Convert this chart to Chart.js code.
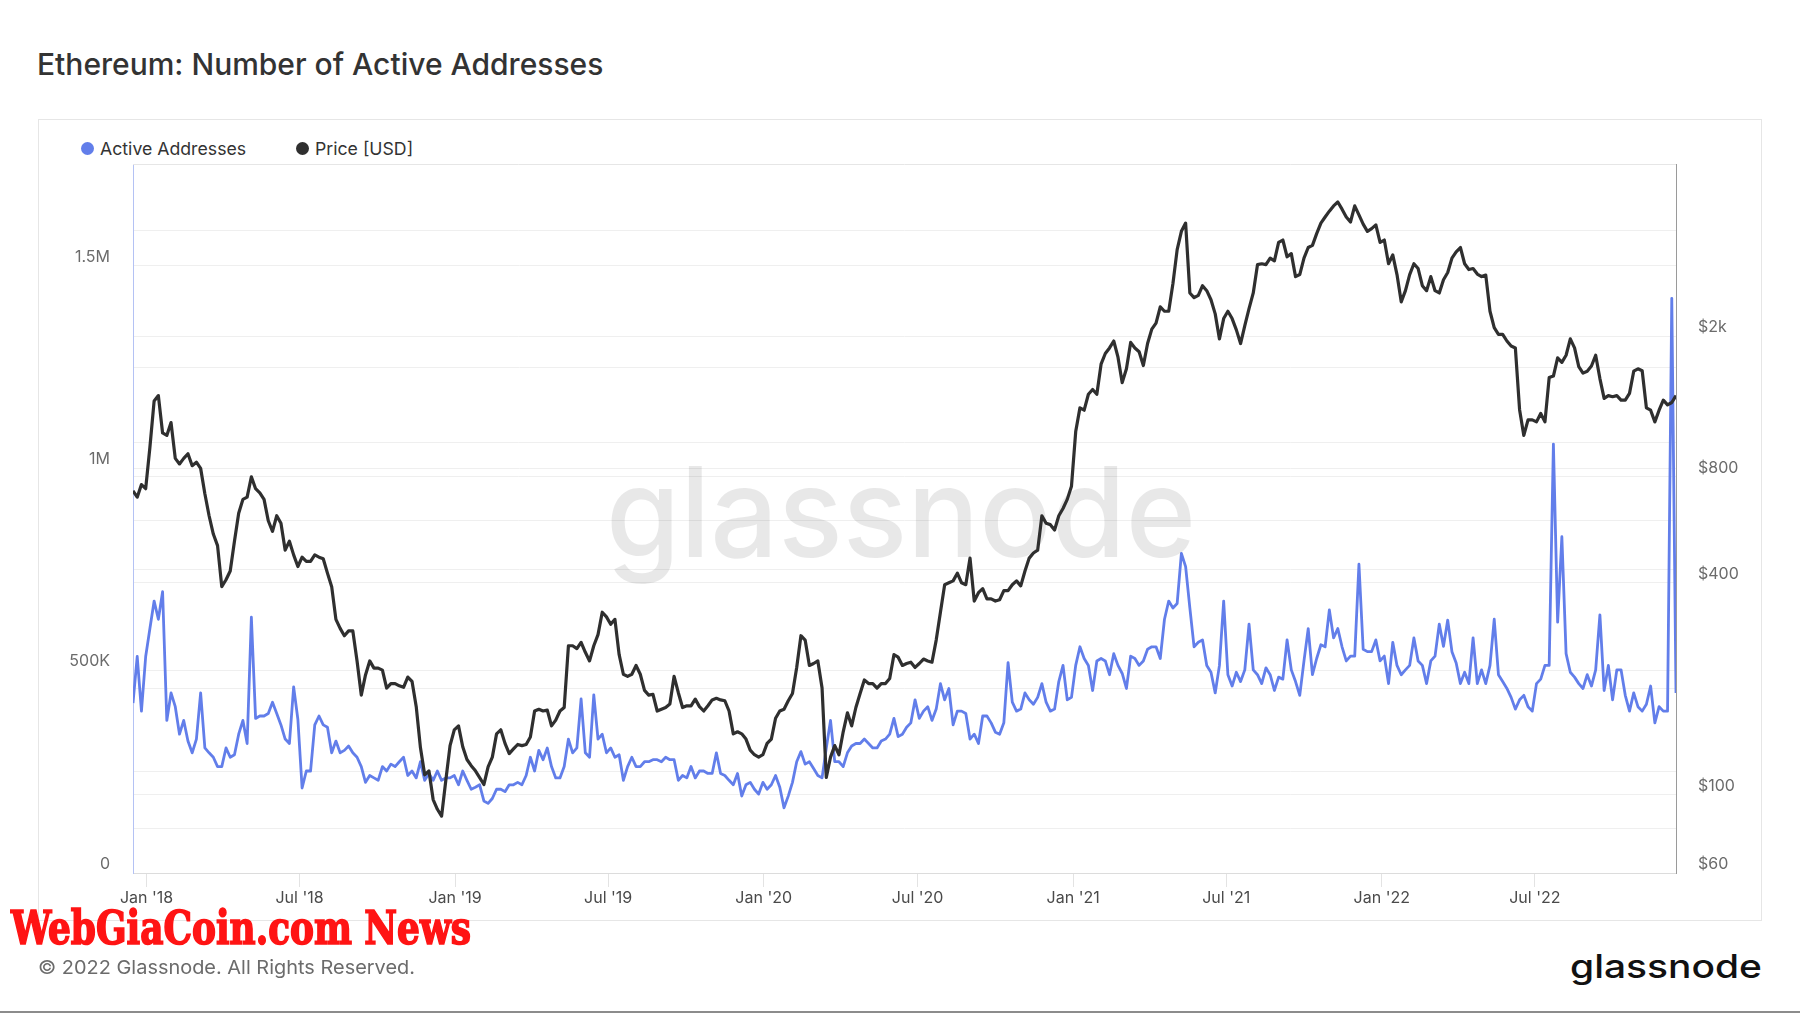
<!DOCTYPE html>
<html>
<head>
<meta charset="utf-8">
<script src="https://cdn.jsdelivr.net/npm/chart.js@4.4.0/dist/chart.umd.min.js"></script>
<style>
  html, body { margin: 0; padding: 0; background: #fff; }
  body { width: 1800px; height: 1013px; position: relative; overflow: hidden; font-family: Inter, sans-serif; }
  .abs { position: absolute; line-height: 1; white-space: nowrap; transform-origin: left top; }
  #title { left: 37px; top: 49px; font-size: 30px; font-weight: 500; color: #333; }
  #card { position: absolute; left: 38px; top: 119px; width: 1724px; height: 802px; border: 1px solid #e6e6e6; box-sizing: border-box; }
  #chart { position: absolute; left: 38px; top: 119px; }
  .dot { position: absolute; width: 13px; height: 13px; border-radius: 50%; }
  .leg { font-size: 17.7px; color: #333; top: 140px; }
  #copy { left: 38px; top: 958px; font-size: 19px; color: #6b6b6b; }
  #logo { left: 1570px; top: 950px; font-size: 33px; font-weight: 500; color: #111; }
  #promo { left: 11px; top: 905px; font-size: 46px; font-weight: bold; color: #ff1414;
           font-family: "DejaVu Serif Condensed", "DejaVu Serif", serif;
           -webkit-text-stroke: 1.6px #ff1414; }
  #rule { position: absolute; left: 0; top: 1011px; width: 1800px; height: 2px; background: #8c8c8c; }
</style>
</head>
<body>
<div id="title" class="abs">Ethereum: Number of Active Addresses</div>
<div id="card"></div>
<div class="dot" style="left:81px; top:142px; background:#627EEA;"></div>
<div class="abs leg" style="left:100px;">Active Addresses</div>
<div class="dot" style="left:296px; top:142px; background:#2f2f2f;"></div>
<div class="abs leg" style="left:315px;">Price [USD]</div>
<canvas id="chart" width="1724" height="802" style="width:1724px;height:802px;"></canvas>
<div id="promo" class="abs">WebGiaCoin.com News</div>
<div id="copy" class="abs">© 2022 Glassnode. All Rights Reserved.</div>
<div id="logo" class="abs">glassnode</div>
<div id="rule"></div>

<script>
// one reading every 5 days, starting 2017-12-16
const startDate = '2017-12-16';
const stepDays = 5;

// active addresses, thousands
const activeAddresses = [
  420, 535, 400, 535, 604, 672, 627, 695, 377, 445,
  411, 343, 377, 326, 297, 331, 445, 309, 297, 286,
  263, 263, 309, 286, 292, 343, 377, 320, 632, 382,
  388, 388, 394, 422, 394, 366, 331, 320, 460, 380,
  210, 252, 252, 366, 388, 366, 360, 297, 326, 297,
  303, 314, 297, 286, 263, 224, 241, 235, 229, 263,
  252, 269, 263, 275, 286, 241, 252, 235, 275, 229,
  246, 229, 252, 229, 235, 235, 241, 218, 252, 229,
  207, 212, 218, 178, 172, 184, 207, 207, 201, 218,
  218, 224, 218, 241, 286, 252, 303, 280, 309, 263,
  235, 235, 263, 331, 297, 309, 430, 297, 286, 440,
  331, 343, 297, 309, 286, 292, 229, 263, 286, 263,
  263, 275, 275, 280, 280, 275, 286, 280, 280, 229,
  241, 235, 263, 235, 252, 252, 246, 246, 297, 246,
  241, 229, 218, 246, 190, 218, 224, 207, 195, 224,
  207, 218, 241, 212, 161, 190, 224, 275, 300, 269,
  275, 258, 241, 235, 309, 377, 275, 275, 263, 297,
  314, 320, 320, 331, 320, 309, 309, 326, 331, 343,
  382, 337, 343, 360, 371, 428, 382, 400, 411, 377,
  405, 468, 428, 456, 366, 400, 400, 394, 331, 343,
  320, 388, 388, 371, 348, 343, 371, 520, 422, 400,
  405, 445, 428, 417, 434, 468, 422, 400, 405, 473,
  513, 428, 434, 513, 559, 530, 513, 451, 524, 530,
  524, 490, 542, 513, 493, 456, 536, 530, 513, 524,
  553, 559, 559, 530, 627, 672, 655, 666, 790, 757,
  655, 559, 570, 576, 513, 496, 445, 513, 672, 490,
  462, 496, 473, 502, 615, 502, 490, 468, 507, 490,
  451, 484, 479, 576, 502, 473, 439, 524, 604, 490,
  530, 564, 559, 650, 581, 604, 559, 524, 536, 536,
  763, 553, 547, 547, 576, 524, 536, 468, 570, 513,
  490, 502, 513, 581, 524, 513, 468, 524, 536, 615,
  560, 625, 547, 519, 468, 496, 468, 581, 468, 502,
  468, 513, 627, 490, 473, 456, 434, 405, 428, 439,
  411, 400, 468, 479, 513, 513, 1060, 620, 831, 542,
  496, 484, 468, 456, 490, 462, 502, 638, 451, 513,
  428, 502, 502, 439, 400, 445, 411, 400, 417, 462,
  371, 411, 400, 400, 1420, 445
];

// ETH price, USD
const priceUsd = [
  730, 700, 760, 740, 970, 1313, 1360, 1065, 1048, 1140,
  902, 870, 902, 930, 860, 880, 845, 716, 620, 550,
  510, 390, 408, 432, 525, 630, 690, 700, 800, 740,
  720, 690, 600, 560, 620, 590, 495, 525, 480, 445,
  473, 460, 460, 480, 473, 468, 426, 390, 315, 297,
  283, 292, 292, 240, 192, 219, 240, 229, 229, 226,
  201, 207, 207, 204, 202, 216, 210, 178, 136, 114,
  117, 97, 91, 87, 110, 138, 153, 157, 137, 126,
  121, 117, 112, 107, 120, 128, 149, 153, 140, 131,
  135, 139, 138, 139, 146, 173, 175, 173, 174, 157,
  163, 173, 177, 265, 265, 260, 271, 254, 240, 265,
  285, 330, 320, 305, 315, 250, 220, 217, 220, 233,
  220, 198, 192, 193, 173, 175, 177, 181, 217, 195,
  177, 179, 179, 187, 178, 173, 179, 186, 188, 186,
  185, 173, 149, 151, 149, 144, 134, 130, 128, 130,
  140, 144, 165, 173, 175, 185, 194, 230, 283, 275,
  233, 236, 240, 201, 112, 128, 138, 130, 151, 171,
  157, 177, 194, 212, 207, 207, 201, 207, 207, 214,
  250, 246, 233, 236, 238, 230, 236, 243, 240, 238,
  275, 330, 395, 400, 405, 426, 400, 395, 470, 355,
  375, 385, 360, 360, 355, 358, 380, 380, 395, 405,
  392, 432, 470, 486, 495, 620, 590, 585, 565, 620,
  650, 690, 752, 1075, 1255, 1236, 1372, 1415, 1372, 1670,
  1791, 1857, 1943, 1748, 1480, 1620, 1925, 1857, 1812, 1655,
  1911, 2100, 2185, 2430, 2360, 2360, 2830, 3530, 3980, 4200,
  2660, 2580, 2620, 2790, 2700, 2545, 2320, 1970, 2250, 2360,
  2250, 2090, 1911, 2150, 2400, 2660, 3200, 3220, 3200, 3340,
  3280, 3700, 3760, 3370, 3440, 2960, 3000, 3340, 3580, 3630,
  3920, 4200, 4370, 4540, 4700, 4820, 4600, 4370, 4230, 4700,
  4430, 4170, 3980, 4050, 4150, 3700, 3760, 3220, 3410, 3000,
  2510, 2700, 3000, 3220, 3120, 2790, 2700, 2960, 2700, 2660,
  2900, 3040, 3340, 3480, 3580, 3220, 3100, 3120, 3010, 2960,
  2990, 2360, 2120, 2030, 2030, 1943, 1880, 1857, 1240, 1048,
  1160, 1160, 1145, 1210, 1145, 1530, 1545, 1740, 1690, 1770,
  1970, 1857, 1644, 1575, 1595, 1650, 1770, 1520, 1335, 1360,
  1350, 1360, 1320, 1320, 1380, 1595, 1620, 1600, 1255, 1236,
  1145, 1236, 1320, 1280, 1300, 1360
];

const xTickMonths = ['2018-01', '2018-07', '2019-01', '2019-07', '2020-01', '2020-07', '2021-01', '2021-07', '2022-01', '2022-07'];
const xTickLabels = ["Jan '18", "Jul '18", "Jan '19", "Jul '19", "Jan '20", "Jul '20", "Jan '21", "Jul '21", "Jan '22", "Jul '22"];

const leftTicks = [0, 250, 500, 750, 1000, 1250, 1500];
const leftLabels = { 0: '0', 500: '500K', 1000: '1M', 1500: '1.5M' };
const rightTicks = [60, 80, 100, 200, 400, 600, 800, 1000, 2000, 4000];
const rightLabels = { 60: '$60', 100: '$100', 400: '$400', 800: '$800', 2000: '$2k' };

// days since 2018-01-01
function dayOf(s) {
  const [y, m, d] = s.split('-').map(Number);
  return (Date.UTC(y, m - 1, d || 1) - Date.UTC(2018, 0, 1)) / 864e5;
}

const day0 = dayOf(startDate);
const toXY = arr => arr.map((v, i) => ({ x: day0 + i * stepDays, y: v }));
const xTickDays = xTickMonths.map(m => dayOf(m));

const tickFont = { family: 'Inter', size: 16 };

const watermark = {
  id: 'watermark',
  beforeDatasetsDraw(chart) {
    const { ctx, chartArea } = chart;
    ctx.save();
    ctx.strokeStyle = '#e6e6e6';
    ctx.lineWidth = 1;
    ctx.beginPath();
    ctx.moveTo(chartArea.left, chartArea.top + 0.5);
    ctx.lineTo(chartArea.right, chartArea.top + 0.5);
    ctx.stroke();
    ctx.font = '500 125px Inter';
    ctx.fillStyle = 'rgba(0,0,0,0.09)';
    const w = ctx.measureText('glassnode').width;
    ctx.translate(568, 438);
    ctx.scale(590 / w, 1);
    ctx.fillText('glassnode', 0, 0);
    ctx.restore();
  }
};

function fitWidth(id, w) {
  const el = document.getElementById(id);
  const r = el.getBoundingClientRect().width;
  el.style.transform = 'scaleX(' + (w / r) + ')';
}

document.fonts.load('500 125px Inter').then(() => {
  fitWidth('promo', 460);
  fitWidth('logo', 192);
  fitWidth('copy', 377);

  new Chart(document.getElementById('chart'), {
    type: 'line',
    data: {
      datasets: [{
        label: 'Active Addresses',
        data: toXY(activeAddresses),
        yAxisID: 'y',
        borderColor: '#627EEA',
        borderWidth: 2.8,
        borderJoinStyle: 'round',
        pointRadius: 0,
        order: 2
      }, {
        label: 'Price [USD]',
        data: toXY(priceUsd),
        yAxisID: 'y1',
        borderColor: '#2f2f2f',
        borderWidth: 3.2,
        borderJoinStyle: 'round',
        pointRadius: 0,
        order: 1
      }]
    },
    options: {
      responsive: false,
      animation: false,
      layout: { padding: { top: 45, left: 0, right: 0, bottom: 0 } },
      plugins: { legend: { display: false }, tooltip: { enabled: false } },
      scales: {
        x: {
          type: 'linear',
          min: day0,
          max: day0 + (priceUsd.length - 1) * stepDays,
          afterBuildTicks: s => { s.ticks = xTickDays.map(v => ({ value: v })); },
          afterFit: s => { s.height = 48; },
          ticks: {
            autoSkip: false, maxRotation: 0, padding: 2, font: tickFont, color: '#4a4a4a',
            callback: v => xTickLabels[xTickDays.indexOf(v)]
          },
          grid: { drawOnChartArea: false, tickLength: 14, color: '#e3e3e3' },
          border: { color: '#dcdcdc' }
        },
        y: {
          position: 'left',
          min: 0,
          max: 1752,
          afterBuildTicks: s => { s.ticks = leftTicks.map(v => ({ value: v })); },
          afterFit: s => { s.width = 95; },
          ticks: {
            autoSkip: false, padding: 23, labelOffset: -9, font: tickFont, color: '#6b6b6b',
            callback: v => leftLabels[v] || ''
          },
          grid: { drawTicks: false, color: '#efefef' },
          border: { color: '#b4c2f4' }
        },
        y1: {
          type: 'logarithmic',
          position: 'right',
          min: 60,
          max: 6180,
          afterBuildTicks: s => { s.ticks = rightTicks.map(v => ({ value: v })); },
          afterFit: s => { s.width = 86; },
          ticks: {
            autoSkip: false, padding: 22, labelOffset: -9, font: tickFont, color: '#6b6b6b',
            callback: v => rightLabels[v] || ''
          },
          grid: { drawTicks: false, color: '#efefef' },
          border: { color: '#9a9a9a' }
        }
      }
    },
    plugins: [watermark]
  });
});
</script>
</body>
</html>
